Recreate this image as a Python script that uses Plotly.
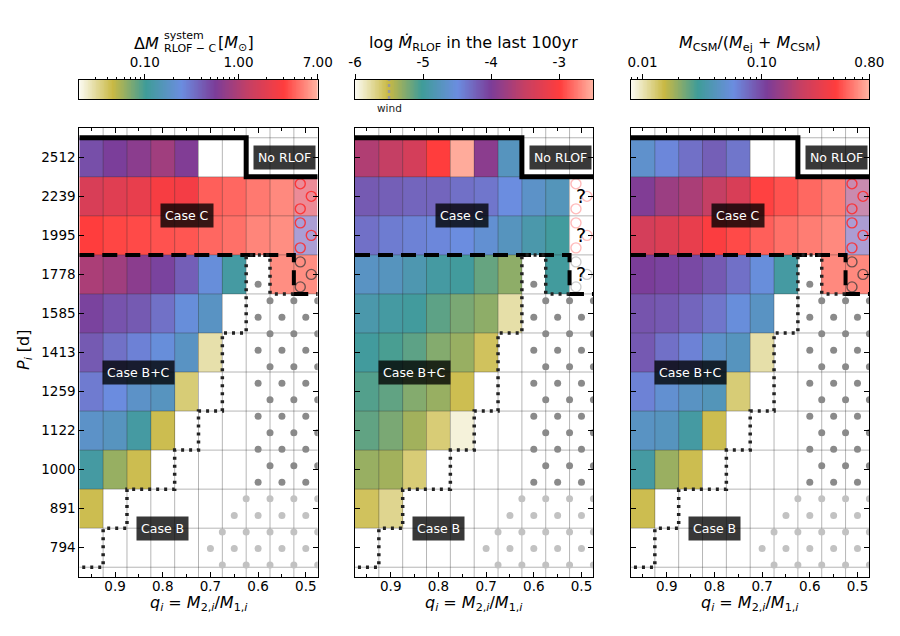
import numpy as np
import plotly.graph_objects as go

W, H = 900, 636
FONT = "DejaVu Sans"

# ---------------- data ----------------
q_vals = [0.95, 0.90, 0.85, 0.80, 0.75, 0.70, 0.65, 0.60, 0.55, 0.50]
logP_rows = [2.90, 2.95, 3.00, 3.05, 3.10, 3.15, 3.20, 3.25, 3.30, 3.35, 3.40]
P_ticktext = ["794", "891", "1000", "1122", "1259", "1413", "1585", "1778", "1995", "2239", "2512"]
q_tickvals = [0.9, 0.8, 0.7, 0.6, 0.5]
q_ticktext = ["0.9", "0.8", "0.7", "0.6", "0.5"]
N = None

# rows: P = 794 ... 2512 (bottom to top); columns: q = 0.95 ... 0.50
dM_rlof = [
    [N, N, N, N, N, N, N, N, N, N],
    [0.043, N, N, N, N, N, N, N, N, N],
    [0.116, 0.061, 0.043, N, N, N, N, N, N, N],
    [0.185, 0.165, 0.116, 0.043, N, N, N, N, N, N],
    [0.30, 0.25, 0.185, 0.165, 0.036, N, N, N, N, N],
    [0.42, 0.33, 0.28, 0.23, 0.175, 0.028, N, N, N, N],
    [0.53, 0.45, 0.42, 0.33, 0.23, 0.175, N, N, N, N],
    [0.955, 0.85, 0.67, 0.53, 0.40, 0.23, 0.116, N, 5.38, 5.38],
    [3.08, 3.27, 3.37, 3.57, 3.67, 4.13, 4.38, 5.07, 5.38, N],
    [1.72, 1.93, 2.17, 2.74, 2.59, 3.90, 4.13, 4.65, 5.22, N],
    [0.47, 0.56, 0.67, 0.85, 0.60, N, N, N, N, N],
]
mdot_log = [
    [N, N, N, N, N, N, N, N, N, N],
    [-5.58, -5.72, N, N, N, N, N, N, N, N],
    [-5.335, -5.37, -5.65, N, N, N, N, N, N, N],
    [-5.14, -5.23, -5.37, -5.65, -5.93, N, N, N, N, N],
    [-5.09, -5.14, -5.265, -5.335, -5.545, N, N, N, N, N],
    [-4.985, -5.055, -5.125, -5.265, -5.335, -5.58, N, N, N, N],
    [-4.88, -4.95, -4.985, -5.125, -5.23, -5.30, -5.79, N, N, N],
    [-4.705, -4.74, -4.845, -4.95, -4.985, -5.16, -5.30, N, -4.985, N],
    [-4.32, -4.39, -4.425, -4.46, -4.495, -4.60, -4.74, -4.88, -4.985, N],
    [-4.18, -4.215, -4.25, -4.25, -4.32, -4.355, -4.495, -4.67, -4.775, N],
    [-3.655, -3.515, -3.375, -2.99, -2.535, -3.90, -4.74, N, N, N],
]
csm_frac = [
    [N, N, N, N, N, N, N, N, N, N],
    [0.0146, N, N, N, N, N, N, N, N, N],
    [0.032, 0.019, 0.0146, N, N, N, N, N, N, N],
    [0.044, 0.042, 0.032, 0.0146, N, N, N, N, N, N],
    [0.0635, 0.050, 0.044, 0.040, 0.0127, N, N, N, N, N],
    [0.088, 0.073, 0.0635, 0.046, 0.042, 0.0105, N, N, N, N],
    [0.092, 0.088, 0.080, 0.070, 0.055, 0.044, N, N, N, N],
    [0.110, 0.105, 0.100, 0.088, 0.073, 0.055, 0.032, N, 0.635, 0.635],
    [0.253, 0.277, 0.318, 0.40, 0.45, 0.505, 0.553, 0.593, 0.635, N],
    [0.116, 0.146, 0.167, 0.21, 0.265, 0.43, 0.47, 0.53, 0.59, N],
    [0.048, 0.061, 0.073, 0.084, 0.070, N, N, N, N, N],
]

# unstable / uncertain cells in the q = 0.50 column
unstable_rows = ["1995", "2239"]
dM_unstable = [0.40, 1.9]
csm_unstable = [0.085, 0.16]
question_rows = ["1778", "1995", "2239"]
grey_circle_rows = ["1778"]

# dotted hatch (no data region); 2 = dark dots, 1 = light dots
hatch_logP = [2.85, 2.90, 2.95, 3.00, 3.05, 3.10, 3.15, 3.20, 3.25]
hatch_mask = [
    [0, 0, 0, 0, 1, 1, 1, 1, 1, 1],
    [0, 0, 0, 0, 0, 1, 1, 1, 1, 1],
    [0, 0, 0, 0, 0, 0, 1, 1, 1, 1],
    [0, 0, 0, 0, 0, 0, 0, 2, 2, 2],
    [0, 0, 0, 0, 0, 0, 0, 2, 2, 2],
    [0, 0, 0, 0, 0, 0, 0, 2, 2, 2],
    [0, 0, 0, 0, 0, 0, 0, 2, 2, 2],
    [0, 0, 0, 0, 0, 0, 0, 2, 2, 2],
    [0, 0, 0, 0, 0, 0, 0, 2, 0, 0],
]

# region boundaries (q, log P)
no_rlof_q = [0.975, 0.625, 0.625, 0.475]
no_rlof_logP = [3.425, 3.425, 3.375, 3.375]
caseC_q = [0.975, 0.525, 0.525, 0.475]
caseC_logP = [3.275, 3.275, 3.225, 3.225]
caseB_q = [0.525, 0.575, 0.575, 0.625, 0.625, 0.675, 0.675, 0.725, 0.725, 0.775,
           0.775, 0.875, 0.875, 0.925, 0.925, 0.975]
caseB_logP = [3.225, 3.225, 3.275, 3.275, 3.175, 3.175, 3.075, 3.075, 3.025, 3.025,
              2.975, 2.975, 2.925, 2.925, 2.875, 2.875]

# region labels
labels = [("No RLOF", 0.545, 3.40), ("Case C", 0.75, 3.325),
          ("Case B+C", 0.85, 3.125), ("Case B", 0.80, 2.925)]

# colour bar ranges
dM_range = [0.02, 7.0]
mdot_range = [-6.0, -2.5]
csm_range = [0.008, 0.8]
wind_logMdot = -5.5

cmap = [[0.0, "#fcfbf3"], [0.14, "#c9b944"], [0.28, "#3f9c98"], [0.43, "#6b8de0"],
        [0.57, "#7b3d99"], [0.71, "#c53f64"], [0.86, "#ff3d3d"], [1.0, "#ffb4a2"]]

# ---------------- geometry helpers ----------------
q_arr = np.array(q_vals)
p_arr = np.array(logP_rows)
dq = q_arr[0] - q_arr[1]
dp = p_arr[1] - p_arr[0]
x_range = [q_arr[0] + dq / 2, q_arr[-1] - dq / 2]
y_range = [p_arr[0] - 0.75 * dp, p_arr[-1] + 0.75 * dp]
q_edges = (q_arr[:-1] + q_arr[1:]) / 2
p_edges = np.concatenate([[p_arr[0] - dp / 2], (p_arr[:-1] + p_arr[1:]) / 2, [p_arr[-1] + dp / 2]])

panel_left = [79.3, 355.0, 631.0]
panel_w = 238.4
main_top, main_bot = 128.0, 577.0
cb_top, cb_bot = 80.0, 99.0

px_per_q = panel_w / (x_range[0] - x_range[1])
px_per_p = (main_bot - main_top) / (y_range[1] - y_range[0])


def tolog(arr):
    return np.array([[np.nan if v is None else v for v in r] for r in arr], dtype=float)


def paper_text(x_px, y_px, text, size, xanchor="center", angle=0, color="black"):
    fig.add_annotation(x=x_px / W, y=1 - y_px / H, xref="paper", yref="paper", xanchor=xanchor,
                       yanchor="middle", text=text, textangle=angle, showarrow=False,
                       font=dict(family=FONT, size=size, color=color))


fig = go.Figure()

panels = [
    dict(z=np.log10(tolog(dM_rlof)), zr=np.log10(dM_range), unst=np.log10(dM_unstable)),
    dict(z=tolog(mdot_log), zr=np.array(mdot_range), unst=None),
    dict(z=np.log10(tolog(csm_frac)), zr=np.log10(csm_range), unst=np.log10(csm_unstable)),
]

row_index = {lab: i for i, lab in enumerate(P_ticktext)}

for k, pan in enumerate(panels):
    xa = "x" if k == 0 else f"x{k+1}"
    ya = "y" if k == 0 else f"y{k+1}"
    zmin, zmax = pan["zr"]
    fig.add_trace(go.Heatmap(x=q_vals, y=logP_rows, z=pan["z"], colorscale=cmap,
                             zmin=zmin, zmax=zmax, showscale=False, hoverinfo="skip",
                             xaxis=xa, yaxis=ya))
    if pan["unst"] is not None:
        zz = np.full((len(logP_rows), len(q_vals)), np.nan)
        for lab, v in zip(unstable_rows, pan["unst"]):
            zz[row_index[lab], -1] = v
        fig.add_trace(go.Heatmap(x=q_vals, y=logP_rows, z=zz, colorscale=cmap,
                                 zmin=zmin, zmax=zmax, showscale=False, hoverinfo="skip",
                                 opacity=0.6, xaxis=xa, yaxis=ya))
    # grid lines
    gx, gy = [], []
    for e in q_edges:
        gx += [e, e, None]
        gy += [y_range[0], y_range[1], None]
    for e in p_edges:
        gx += [x_range[0], x_range[1], None]
        gy += [e, e, None]
    fig.add_trace(go.Scatter(x=gx, y=gy, mode="lines", line=dict(color="rgba(50,50,50,0.45)", width=0.8),
                             hoverinfo="skip", showlegend=False, xaxis=xa, yaxis=ya))
    # dot hatch
    dot_y0, dot_dy = 3.1529, 0.02115
    dots = {1: ([], []), 2: ([], [])}

    def cell_level(qc, yv):
        ci = int(round((q_arr[0] - qc) / dq))
        if ci < 0 or ci >= len(q_vals):
            return 0
        for j, lp in enumerate(hatch_logP):
            if abs(yv - lp) <= dp / 2:
                return hatch_mask[j][ci]
        return 0

    for kk in range(-20, 20):
        yv = dot_y0 + kk * dot_dy
        if yv < y_range[0] or yv > y_range[1]:
            continue
        if kk % 2 == 0:
            for qc in q_vals:
                lv = cell_level(qc, yv)
                if lv:
                    dots[lv][0].append(qc)
                    dots[lv][1].append(yv)
        else:
            for e in list(q_edges) + [x_range[1]]:
                lv_l = cell_level(e + dq / 2, yv)
                lv_r = cell_level(e - dq / 2, yv) if e > x_range[1] + 1e-9 else lv_l
                if lv_l and lv_r:
                    lv = max(lv_l, lv_r)
                    dots[lv][0].append(e)
                    dots[lv][1].append(yv)
    for lv, col in [(1, "#c2c2c2"), (2, "#8a8a8a")]:
        fig.add_trace(go.Scatter(x=dots[lv][0], y=dots[lv][1], mode="markers",
                                 marker=dict(size=7, color=col, line=dict(width=0)),
                                 hoverinfo="skip", showlegend=False, xaxis=xa, yaxis=ya))
    # circle hatch in q=0.50 column
    oq = 5.5 / px_per_q
    op = 12.5 / px_per_p
    for rows, col in [(unstable_rows, "rgba(255,40,40,0.85)" if k != 1 else "rgba(255,60,60,0.35)"),
                      (grey_circle_rows, "rgba(60,60,60,0.75)" if k != 1 else "rgba(110,110,110,0.35)")]:
        cx, cy = [], []
        for lab in rows:
            lp = logP_rows[row_index[lab]]
            qc = q_vals[-1]
            for sx, sy in [(1, 1), (-1, 0), (1, -1)]:
                cx.append(qc + sx * oq)
                cy.append(lp + sy * op)
        fig.add_trace(go.Scatter(x=cx, y=cy, mode="markers",
                                 marker=dict(symbol="circle-open", size=10, color=col, line=dict(width=1.4, color=col)),
                                 hoverinfo="skip", showlegend=False, xaxis=xa, yaxis=ya))
    # boundaries
    fig.add_trace(go.Scatter(x=caseC_q, y=caseC_logP, mode="lines",
                             line=dict(color="black", width=4, dash="15px,8px"),
                             hoverinfo="skip", showlegend=False, xaxis=xa, yaxis=ya))
    fig.add_trace(go.Scatter(x=caseB_q, y=caseB_logP, mode="lines",
                             line=dict(color="#222222", width=3.5, dash="3px,5px"),
                             hoverinfo="skip", showlegend=False, xaxis=xa, yaxis=ya))
    fig.add_trace(go.Scatter(x=no_rlof_q, y=no_rlof_logP, mode="lines",
                             line=dict(color="black", width=5),
                             hoverinfo="skip", showlegend=False, xaxis=xa, yaxis=ya))
    for txt, qx, py in labels:
        fig.add_annotation(x=qx, y=py, xref=xa, yref=ya, text=txt, showarrow=False,
                           xanchor="center", yanchor="middle",
                           font=dict(family=FONT, size=12.5, color="white"),
                           bgcolor="rgba(0,0,0,0.78)", borderpad=4)
    if k == 1:
        for lab in question_rows:
            fig.add_annotation(x=q_vals[-1], y=logP_rows[row_index[lab]], xref=xa, yref=ya,
                               text="?", showarrow=False, xanchor="center", yanchor="middle",
                               font=dict(family=FONT, size=19, color="black"))

    xdom = [panel_left[k] / W, (panel_left[k] + panel_w) / W]
    ydom = [1 - main_bot / H, 1 - main_top / H]
    xkey = "xaxis" if k == 0 else f"xaxis{k+1}"
    ykey = "yaxis" if k == 0 else f"yaxis{k+1}"
    fig.update_layout(**{
        xkey: dict(domain=xdom, range=x_range, anchor=ya, tickmode="array", tickvals=q_tickvals,
                   ticktext=q_ticktext, ticks="inside", ticklen=5, tickcolor="black",
                   minor=dict(tickmode="array", tickvals=list(q_arr[::2]), ticks="inside", ticklen=3,
                              tickcolor="black", showgrid=False),
                   showline=True, linecolor="black", linewidth=1, mirror="ticks",
                   showgrid=False, zeroline=False, automargin=False, ticklabelstandoff=-3,
                   tickfont=dict(family=FONT, size=13.5, color="black")),
        ykey: dict(domain=ydom, range=y_range, anchor=xa, tickmode="array", tickvals=logP_rows,
                   ticktext=P_ticktext, showticklabels=(k == 0), ticks="inside", ticklen=5,
                   tickcolor="black", showline=True, linecolor="black", linewidth=1, mirror="ticks",
                   showgrid=False, zeroline=False, automargin=False,
                   tickfont=dict(family=FONT, size=13.5, color="black")),
    })
    paper_text(panel_left[k] + panel_w / 2, 603,
               "<i>q</i><sub><i>i</i></sub> = <i>M</i><sub>2,<i>i</i></sub>/<i>M</i><sub>1,<i>i</i></sub>", 16)

paper_text(24, 350, "<i>P</i><sub><i>i</i></sub> [d]", 16, angle=-90)

# ---------------- colour bars ----------------
cb_specs = [
    dict(lo=np.log10(dM_range[0]), hi=np.log10(dM_range[1]),
         tv=list(np.log10([0.1, 1.0, 7.0])), tt=["0.10", "1.00", "7.00"],
         mv=list(np.log10([0.03, 0.04, 0.05, 0.06, 0.07, 0.08, 0.09, 0.2, 0.3, 0.4, 0.5, 0.6, 0.7, 0.8, 0.9,
                           2, 3, 4, 5, 6]))),
    dict(lo=mdot_range[0], hi=mdot_range[1], tv=[-6, -5, -4, -3], tt=["-6", "-5", "-4", "-3"], mv=[]),
    dict(lo=np.log10(csm_range[0]), hi=np.log10(csm_range[1]),
         tv=list(np.log10([0.01, 0.1, 0.8])), tt=["0.01", "0.10", "0.80"],
         mv=list(np.log10([0.008, 0.009, 0.02, 0.03, 0.04, 0.05, 0.06, 0.07, 0.08, 0.09,
                           0.2, 0.3, 0.4, 0.5, 0.6, 0.7]))),
]
for k, cs in enumerate(cb_specs):
    i = k + 4
    g = np.linspace(cs["lo"], cs["hi"], 300)
    fig.add_trace(go.Heatmap(x=g, y=[0.25, 0.75], z=[g, g], colorscale=cmap, zmin=cs["lo"], zmax=cs["hi"],
                             showscale=False, hoverinfo="skip", xaxis=f"x{i}", yaxis=f"y{i}"))
    minor = dict(tickmode="array", tickvals=cs["mv"], ticks="outside", ticklen=2.5, tickcolor="black") \
        if cs["mv"] else dict(ticks="")
    fig.update_layout(**{
        f"xaxis{i}": dict(domain=[panel_left[k] / W, (panel_left[k] + panel_w) / W], range=[cs["lo"], cs["hi"]],
                          anchor=f"y{i}", side="top", tickmode="array", tickvals=cs["tv"], ticktext=cs["tt"],
                          ticks="outside", ticklen=5, tickcolor="black", minor=minor,
                          showline=True, linecolor="black", linewidth=1, mirror=True,
                          showgrid=False, zeroline=False, automargin=False, ticklabelstandoff=2,
                          tickfont=dict(family=FONT, size=13.5, color="black")),
        f"yaxis{i}": dict(domain=[1 - cb_bot / H, 1 - cb_top / H], range=[0, 1], anchor=f"x{i}",
                          showticklabels=False, ticks="", showline=True, linecolor="black", linewidth=1,
                          mirror=True, showgrid=False, zeroline=False, automargin=False),
    })

fig.add_trace(go.Scatter(x=[wind_logMdot, wind_logMdot], y=[0.0, 1.0], mode="lines",
                         line=dict(color="#9a9a9a", width=2.5, dash="3px,3px"),
                         hoverinfo="skip", showlegend=False, xaxis="x5", yaxis="y5"))
fig.add_annotation(x=wind_logMdot, y=1 - 108 / H, xref="x5", yref="paper", text="wind", showarrow=False,
                   xanchor="center", yanchor="middle",
                   font=dict(family=FONT, size=10.5, color="#222222"))

# colour bar titles
paper_text(161, 44, "Δ<i>M</i>", 16, xanchor="right")
paper_text(162, 35, "system", 11, xanchor="left")
paper_text(162, 48.5, "RLOF − C", 11, xanchor="left")
paper_text(216, 44, "[<i>M</i><sub>⊙</sub>]", 16, xanchor="left")
paper_text(474, 44, "log <i>Ṁ</i><sub>RLOF</sub> in the last 100yr", 16)
paper_text(750, 44, "<i>M</i><sub>CSM</sub>/(<i>M</i><sub>ej</sub> + <i>M</i><sub>CSM</sub>)", 16)

fig.update_layout(width=W, height=H, autosize=False, margin=dict(l=0, r=0, t=0, b=0, pad=0),
                  paper_bgcolor="white", plot_bgcolor="white", showlegend=False,
                  font=dict(family=FONT, color="black"))

fig.write_html("out.html", config={"responsive": False, "displayModeBar": False},
               default_width="900px", default_height="636px",
               post_script="document.body.style.margin='0';document.body.style.overflow='hidden';")
